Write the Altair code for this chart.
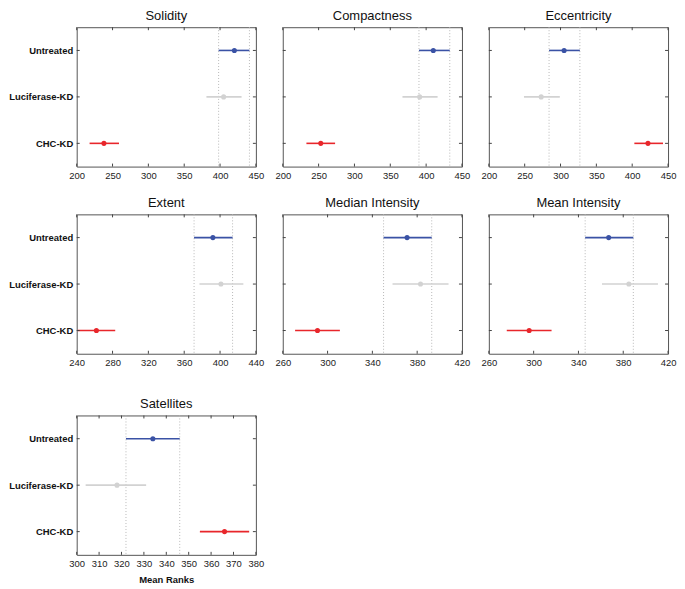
import altair as alt
import pandas as pd

groups = ["Untreated", "Luciferase-KD", "CHC-KD"]
colors = ["#3a52a5", "#d2d2d2", "#e8262b"]

titles = ["Solidity", "Compactness", "Eccentricity", "Extent",
          "Median Intensity", "Mean Intensity", "Satellites"]

mean_vals = {
    "Solidity": [420, 405, 238],
    "Compactness": [410, 391, 253],
    "Eccentricity": [305, 273, 422],
    "Extent": [392, 401, 262],
    "Median Intensity": [371, 383, 291],
    "Mean Intensity": [367, 385, 296],
    "Satellites": [334, 318, 366],
}
lo_vals = {
    "Solidity": [398, 381, 218],
    "Compactness": [390, 367, 233],
    "Eccentricity": [284, 249, 403],
    "Extent": [371, 377, 241],
    "Median Intensity": [350, 358, 271],
    "Mean Intensity": [346, 361, 276],
    "Satellites": [322, 304, 355],
}
hi_vals = {
    "Solidity": [441, 430, 259],
    "Compactness": [433, 416, 273],
    "Eccentricity": [327, 299, 443],
    "Extent": [414, 426, 283],
    "Median Intensity": [393, 408, 311],
    "Mean Intensity": [389, 411, 316],
    "Satellites": [346, 331, 377],
}
tick_vals = {
    "Solidity": [200, 250, 300, 350, 400, 450],
    "Compactness": [200, 250, 300, 350, 400, 450],
    "Eccentricity": [200, 250, 300, 350, 400, 450],
    "Extent": [240, 280, 320, 360, 400, 440],
    "Median Intensity": [260, 300, 340, 380, 420],
    "Mean Intensity": [260, 300, 340, 380, 420],
    "Satellites": [300, 310, 320, 330, 340, 350, 360, 370, 380],
}

W, H = 180, 140
FONT = "Liberation Sans"


def panel(name, show_y, xtitle=None):
    ticks = tick_vals[name]
    df = pd.DataFrame({"group": groups, "mean": mean_vals[name],
                       "lo": lo_vals[name], "hi": hi_vals[name]})
    bounds = pd.DataFrame({"v": [lo_vals[name][0], hi_vals[name][0]]})
    tdf = pd.DataFrame({"t": ticks})
    gdf = pd.DataFrame({"group": groups})

    xscale = alt.Scale(domain=[ticks[0], ticks[-1]], nice=False, zero=False)
    yscale = alt.Scale(type="point", domain=groups, padding=0.5)
    xaxis = alt.Axis(values=ticks, ticks=False, domain=False, grid=False,
                     labelOverlap=False, labelFlush=False, labelFontSize=9.5,
                     labelPadding=4, labelColor="#222", labelFont=FONT,
                     title=xtitle, titleFontSize=9.5, titleFontWeight="bold",
                     titleFont=FONT, titleColor="#111", titlePadding=6)
    if show_y:
        yaxis = alt.Axis(ticks=False, domain=False, grid=False,
                         labelFontSize=9.5, labelFontWeight="bold",
                         labelColor="#111", labelFont=FONT,
                         labelPadding=4, title=None)
    else:
        yaxis = None

    X = lambda f: alt.X(f, scale=xscale, axis=xaxis)
    Y = lambda f: alt.Y(f, scale=yscale, axis=yaxis, sort=groups)
    color = alt.Color("group:N", scale=alt.Scale(domain=groups, range=colors),
                      legend=None)

    dotted = alt.Chart(bounds).mark_rule(color="#b8b8b8", strokeDash=[1, 2],
                                         strokeWidth=1).encode(
        x=X("v:Q"), y=alt.value(0), y2=alt.value(H))
    bars = alt.Chart(df).mark_rule(strokeWidth=1.6).encode(
        x=X("lo:Q"), x2="hi:Q", y=Y("group:N"), color=color)
    pts = alt.Chart(df).mark_circle(size=26, opacity=1).encode(
        x=X("mean:Q"), y=Y("group:N"), color=color)
    top = alt.Chart(tdf).mark_rule(color="#444").encode(
        x=X("t:Q"), y=alt.value(0), y2=alt.value(3))
    bot = alt.Chart(tdf).mark_rule(color="#444").encode(
        x=X("t:Q"), y=alt.value(H - 3), y2=alt.value(H))
    left = alt.Chart(gdf).mark_rule(color="#444").encode(
        y=Y("group:N"), x=alt.value(0), x2=alt.value(3))
    right = alt.Chart(gdf).mark_rule(color="#444").encode(
        y=Y("group:N"), x=alt.value(W - 3), x2=alt.value(W))

    return alt.layer(dotted, bars, pts, top, bot, left, right).properties(
        width=W, height=H,
        title=alt.TitleParams(name, fontSize=13, fontWeight="normal",
                              font=FONT, color="#111", offset=4))


row1 = alt.hconcat(panel("Solidity", True), panel("Compactness", False),
                   panel("Eccentricity", False), spacing=27, bounds="flush")
row2 = alt.hconcat(panel("Extent", True), panel("Median Intensity", False),
                   panel("Mean Intensity", False), spacing=27, bounds="flush")
row3 = alt.hconcat(panel("Satellites", True, "Mean Ranks"), spacing=27,
                   bounds="flush")

upper = alt.vconcat(row1, row2, spacing=16)
chart = alt.vconcat(upper, row3, spacing=30).properties(
    padding={"left": 0, "top": 0, "right": 0, "bottom": 0}
).configure_view(stroke="#555", strokeWidth=1)

chart.save("out.html", embed_options={"renderer": "svg", "actions": False})
